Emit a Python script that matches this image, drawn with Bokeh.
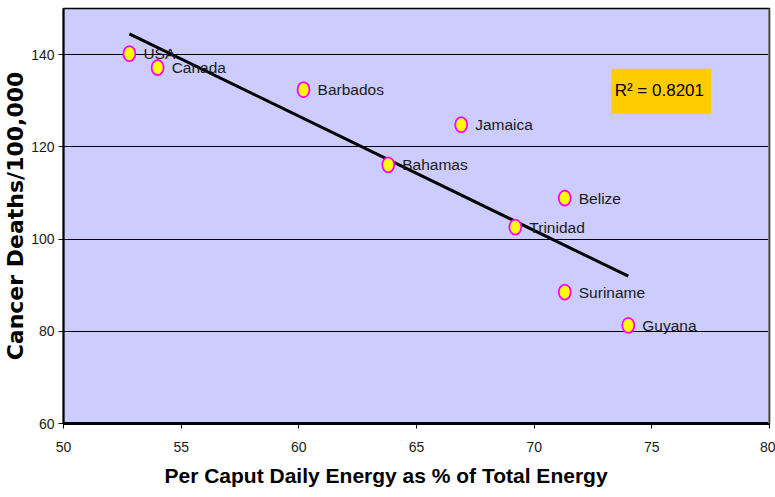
import numpy as np
from bokeh.plotting import figure
from bokeh.models import ColumnDataSource, FixedTicker, Span, BoxAnnotation, Label, Range1d, Title
from bokeh.core.properties import value
from bokeh.embed import file_html
from bokeh.resources import INLINE

countries = ["USA", "Canada", "Barbados", "Jamaica", "Bahamas", "Belize", "Trinidad", "Suriname", "Guyana"]
energy_pct = [52.8, 54.0, 60.2, 66.9, 63.8, 71.3, 69.2, 71.3, 74.0]
cancer_deaths = [140.2, 137.2, 132.4, 124.8, 116.1, 108.9, 102.6, 88.5, 81.3]
x_ticks = [50, 55, 60, 65, 70, 75, 80]
y_ticks = [60, 80, 100, 120, 140]
r2_text = "R² = 0.8201"
x_title = "Per Caput Daily Energy as % of Total Energy"
y_title = "Cancer Deaths/100,000"

SANS = "Liberation Sans"

src = ColumnDataSource(dict(x=energy_pct, y=cancer_deaths, name=countries))

p = figure(width=775, height=497, output_backend="svg", toolbar_location=None,
           x_range=Range1d(50, 80), y_range=Range1d(60, 150),
           min_border_left=62, min_border_right=6, min_border_top=8, min_border_bottom=74,
           background_fill_color="#CCCCFF", border_fill_color="white",
           outline_line_color="black", outline_line_width=1.5)

# trend line (least squares from data)
slope, intercept = np.polyfit(energy_pct, cancer_deaths, 1)
xs = [min(energy_pct), max(energy_pct)]
p.line(xs, [slope * v + intercept for v in xs], line_color="black", line_width=3)

p.ellipse(x="x", y="y", width=12, height=15, width_units="screen", height_units="screen",
          fill_color="yellow", line_color="#FF00FF", line_width=1.8, source=src)
p.text(x="x", y="y", text="name", x_offset=14, text_baseline="middle", text_align="left",
       text_font=value(SANS), text_font_size="15.5px", text_color="#1a1a1a", source=src)

# right border gray
p.add_layout(Span(location=80, dimension="height", line_color="#808080", line_width=3))

# R^2 box
p.add_layout(BoxAnnotation(left=73.28, right=77.53, bottom=127.2, top=136.96,
                           fill_color="#FFCC00", fill_alpha=1.0, line_color=None))
p.add_layout(Label(x=75.32, y=132.2, text=r2_text, text_align="center", text_baseline="middle",
                   text_font=SANS, text_font_size="17px", text_color="black"))

# x-axis title (offset left of frame centre as in the reference)
p.add_layout(Title(text=x_title, align="left", offset=101, standoff=15,
                   text_font=SANS, text_font_size="21px", text_font_style="bold",
                   text_color="black"), "below")

p.xgrid.grid_line_color = None
p.ygrid.grid_line_color = "black"
p.ygrid.grid_line_width = 1
p.ygrid.ticker = FixedTicker(ticks=y_ticks)

p.xaxis.ticker = FixedTicker(ticks=x_ticks)
p.yaxis.ticker = FixedTicker(ticks=y_ticks)

for ax in (p.xaxis[0], p.yaxis[0]):
    ax.major_label_text_font = SANS
    ax.major_label_text_font_size = "14px"
    ax.major_label_text_color = "#1a1a1a"
    ax.major_tick_out = 5
    ax.major_tick_in = 0
    ax.minor_tick_out = 0
    ax.minor_tick_in = 0
    ax.major_tick_line_color = "black"
    ax.axis_label_text_font_style = "bold"
    ax.axis_label_text_color = "black"

p.xaxis.axis_line_width = 3
p.xaxis.major_label_standoff = 13

p.yaxis.axis_label = y_title
p.yaxis.axis_label_text_font = "DejaVu Sans"
p.yaxis.axis_label_text_font_size = "22px"
p.yaxis.axis_line_width = 2
p.yaxis.major_label_standoff = 4
p.yaxis.axis_label_standoff = 0

open("out.html", "w").write(file_html(p, INLINE))
